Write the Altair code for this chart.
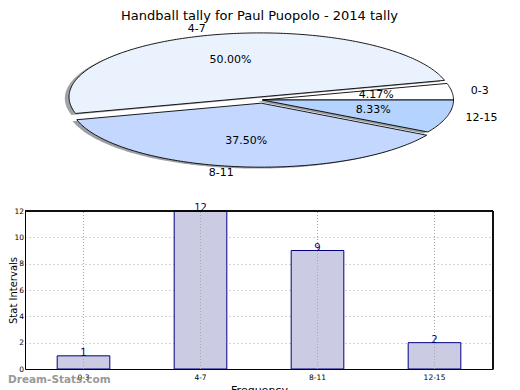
import altair as alt
import numpy as np
import pandas as pd

# ---- data ----
categories = ["0-3", "4-7", "8-11", "12-15"]
counts = [1, 12, 9, 2]
y_ticks = [0, 2, 4, 6, 8, 10, 12]
title_text = "Handball tally for Paul Puopolo - 2014 tally"
watermark = "Dream-Stats.com"

# ---- styles ----
slice_colors = ["#ffffff", "#eaf2fe", "#c4d8ff", "#b4d4ff"]
explode = [0.0, 0.05, 0.05, 0.0]
SHADOW = -0.022
FONT = "DejaVu Sans"

W, H = 468, 361
PIE_CX, PIE_CY, PIE_RX, PIE_RY = 237.5, 92, 191, 64

total = sum(counts)


def shade(hexcol):
    c = [int(hexcol[k:k + 2], 16) for k in (1, 3, 5)]
    return "#%02x%02x%02x" % tuple(int(v * 0.3) for v in c)


pie_rows, lab_rows = [], []
start = 0.0
for i, (cat, cnt, ex) in enumerate(zip(categories, counts, explode)):
    frac = cnt / total
    a1, a2 = 360 * start, 360 * (start + frac)
    mid = np.deg2rad((a1 + a2) / 2)
    ox, oy = ex * np.cos(mid), ex * np.sin(mid)
    ang = np.deg2rad(np.linspace(a1, a2, int(np.ceil(a2 - a1)) + 1))
    ux = np.concatenate([[0.0], np.cos(ang), [0.0]]) + ox
    uy = np.concatenate([[0.0], np.sin(ang), [0.0]]) + oy
    for kind, d in (("shadow", SHADOW), ("wedge", 0.0)):
        for j, (a, b) in enumerate(zip(ux, uy)):
            pie_rows.append({"piece": f"{i}-{kind}", "i": j, "px": a + d, "py": b + d})
    lab_rows.append({
        "cat": cat,
        "lx": ox + 1.1 * np.cos(mid), "ly": oy + 1.1 * np.sin(mid),
        "side": "left" if np.cos(mid) > 0 else "right",
        "pct": f"{100 * frac:.2f}%",
        "tx": ox + 0.6 * np.cos(mid), "ty": oy + 0.6 * np.sin(mid),
    })
    start += frac

pie_df = pd.DataFrame(pie_rows)
lab_df = pd.DataFrame(lab_rows)
bar_df = pd.DataFrame({"cat": categories, "count": counts})

pie_x = alt.Scale(domain=[-1, 1], range=[PIE_CX - PIE_RX, PIE_CX + PIE_RX], nice=False, zero=False)
pie_y = alt.Scale(domain=[-1, 1], range=[PIE_CY + PIE_RY, PIE_CY - PIE_RY], nice=False, zero=False)

pie_layers = []
for i, col in enumerate(slice_colors):
    for kind in ("shadow", "wedge"):
        name = f"{i}-{kind}"
        if kind == "shadow":
            mk = dict(fill=shade(col), fillOpacity=0.5, strokeOpacity=0)
        else:
            mk = dict(fill=col, stroke="black", strokeWidth=0.9)
        pie_layers.append(
            alt.Chart(pie_df).transform_filter(alt.datum.piece == name)
            .mark_line(**mk)
            .encode(x=alt.X("px:Q", scale=pie_x, axis=None),
                    y=alt.Y("py:Q", scale=pie_y, axis=None),
                    order=alt.Order("i:Q"))
        )

pct_text = alt.Chart(lab_df).mark_text(fontSize=11, color="black", align="center", baseline="middle").encode(
    x=alt.X("tx:Q", scale=pie_x, axis=None), y=alt.Y("ty:Q", scale=pie_y, axis=None), text="pct:N")
for side in ("left", "right"):
    pie_layers.append(
        alt.Chart(lab_df).transform_filter(alt.datum.side == side)
        .mark_text(fontSize=11, color="black", align=side, baseline="middle")
        .encode(x=alt.X("lx:Q", scale=pie_x, axis=None), y=alt.Y("ly:Q", scale=pie_y, axis=None), text="cat:N")
    )
pie_layers.append(pct_text)

title_layer = alt.Chart(pd.DataFrame({"t": [title_text]})).mark_text(
    fontSize=13, color="black", align="center", baseline="top").encode(
    x=alt.value(234.5), y=alt.value(2), text="t:N")
wm_layer = alt.Chart(pd.DataFrame({"t": [watermark]})).mark_text(
    fontSize=10.5, fontWeight="bold", color="#888888", opacity=0.85, align="left", baseline="middle").encode(
    x=alt.value(-17), y=alt.value(372), text="t:N")
pie_layers += [title_layer, wm_layer]

pie_group = alt.layer(*pie_layers)

# ---- bar chart ----
band = alt.Scale(domain=categories, range=[0, W], paddingInner=0.55, paddingOuter=0.275)
ybar = alt.Scale(domain=[0, 12], range=[H, 203], nice=False, zero=True)

bars = alt.Chart(bar_df).mark_bar(fill="#cbcbe4", stroke="#000080", strokeWidth=1).encode(
    x=alt.X("cat:N", sort=categories, scale=band,
            axis=alt.Axis(title="Frequency", labelAngle=0, labelFontSize=7.5, labelPadding=4,
                          ticks=False, grid=False, domainColor="black", titleFontSize=11,
                          titleFontWeight="normal", titleY=15, labelColor="black")),
    y=alt.Y("count:Q", scale=ybar,
            axis=alt.Axis(title="Stat Intervals", values=y_ticks, labelFontSize=7.5, labelPadding=1.5,
                          ticks=False, grid=True, gridDash=[1, 3], gridColor="#a8a8a8",
                          domainColor="black", titleFontSize=10, titleFontWeight="normal",
                          titleX=-11.5, titleY=282, titleBaseline="middle", titleAlign="center",
                          labelColor="black")),
)
vgrid = alt.Chart(bar_df).mark_rule(color="#a8a8a8", strokeDash=[1, 2], strokeWidth=1).encode(
    x=alt.X("cat:N", sort=categories), y=alt.datum(0), y2=alt.datum(12))
bar_text = alt.Chart(bar_df).mark_text(color="#000080", fontSize=10, baseline="alphabetic", dy=0).encode(
    x=alt.X("cat:N", sort=categories), y=alt.Y("count:Q"), text="count:Q")
top_rule = alt.Chart(bar_df).mark_rule(color="black", strokeWidth=1).encode(
    y=alt.datum(12), x=alt.value(0), x2=alt.value(W))
right_rule = alt.Chart(bar_df).mark_rule(color="black", strokeWidth=1).encode(
    x=alt.value(W), y=alt.datum(0), y2=alt.datum(12))

bar_group = alt.layer(bars, vgrid, bar_text, top_rule, right_rule)

chart = (
    alt.layer(bar_group, pie_group)
    .resolve_scale(x="independent", y="independent")
    .properties(width=W, height=H, autosize=alt.AutoSizeParams(type="none"),
                padding={"left": 17, "top": 0, "right": 19, "bottom": 21})
    .configure(font=FONT)
    .configure_view(strokeWidth=0)
)

chart.save("out.html", embed_options={"renderer": "svg", "actions": False})
